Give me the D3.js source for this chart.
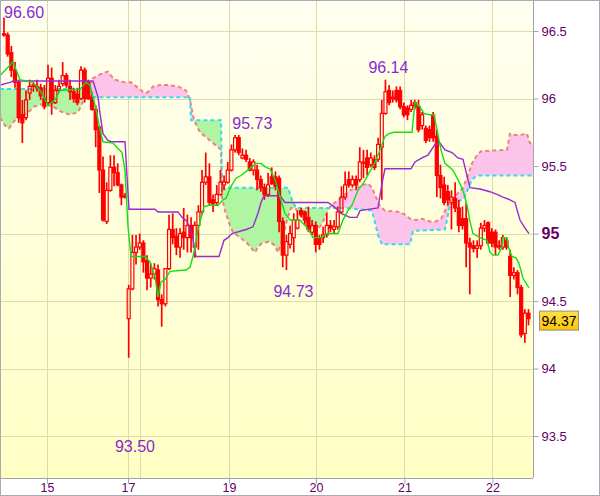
<!DOCTYPE html>
<html><head><meta charset="utf-8">
<script src="https://cdn.jsdelivr.net/npm/d3@7"></script>
<style>body{margin:0;background:#fff}svg{display:block}</style>
</head><body>
<svg id="c" width="600" height="496"></svg>
<script>
// ---------- DATA ----------
const openP = [96.48,96.47,96.34,96.21,96.12,95.88,95.86,96.04,96.09,96.09,
96.08,96.00,95.97,96.15,95.97,96.06,96.11,96.17,96.09,96.05,
96.03,96.00,96.21,96.12,96.01,95.92,95.79,95.47,95.09,95.32,
95.49,95.45,95.36,95.28,94.37,94.59,94.86,94.90,94.93,94.80,
94.67,94.70,94.73,94.51,94.48,94.74,95.03,94.98,94.90,95.01,
94.97,95.06,94.90,95.06,95.16,95.38,95.42,95.25,95.23,95.29,
95.36,95.38,95.47,95.62,95.71,95.56,95.58,95.53,95.47,95.47,
95.40,95.34,95.29,95.42,95.42,95.41,95.09,94.84,94.92,94.97,
95.04,95.17,95.16,95.12,95.01,95.06,94.97,94.97,94.99,95.06,
95.03,95.05,95.16,95.27,95.40,95.36,95.40,95.40,95.52,95.56,
95.51,95.55,95.55,95.64,95.89,96.06,96.00,96.06,96.06,95.94,
95.93,95.92,95.97,95.94,95.80,95.78,95.77,95.88,95.72,95.43,
95.36,95.31,95.23,95.26,95.19,95.11,95.11,94.93,94.91,94.89,
94.91,95.04,95.08,95.01,95.01,94.90,94.90,94.95,94.83,94.69,
94.71,94.60,94.26,94.41];
const highP = [96.60,96.49,96.39,96.27,96.14,95.99,96.06,96.14,96.12,96.14,
96.11,96.10,96.25,96.23,96.10,96.14,96.27,96.19,96.14,96.08,
96.08,96.24,96.23,96.14,96.05,95.95,95.80,95.57,95.38,95.58,
95.58,95.52,95.37,95.30,94.62,94.99,94.99,95.00,94.95,94.84,
94.78,94.78,94.77,94.55,94.74,95.14,95.15,95.04,95.04,95.19,
95.14,95.12,95.09,95.21,95.47,95.60,95.52,95.29,95.36,95.47,
95.43,95.53,95.66,95.73,95.73,95.63,95.62,95.56,95.55,95.51,
95.43,95.37,95.45,95.49,95.46,95.43,95.12,94.99,95.06,95.15,
95.17,95.19,95.17,95.20,95.10,95.09,94.99,95.05,95.15,95.10,
95.10,95.20,95.35,95.46,95.46,95.43,95.43,95.64,95.62,95.62,
95.60,95.58,95.71,95.99,96.14,96.10,96.06,96.09,96.09,95.97,
95.95,95.99,95.99,95.99,95.90,95.80,95.80,95.90,95.77,95.51,
95.42,95.36,95.32,95.38,95.25,95.20,95.23,94.97,94.95,94.95,
95.08,95.10,95.09,95.04,95.03,94.95,94.99,94.97,94.88,94.75,
94.73,94.62,94.44,94.44];
const lowP = [96.46,96.31,96.16,96.08,95.82,95.67,95.84,95.99,96.05,96.05,
95.99,95.92,95.95,95.88,95.96,96.05,96.09,96.08,95.99,95.97,
95.95,95.99,95.97,95.99,95.91,95.64,95.30,95.09,95.07,95.31,
95.35,95.35,95.21,95.26,94.08,94.58,94.77,94.88,94.71,94.58,
94.60,94.66,94.46,94.31,94.46,94.73,94.92,94.84,94.82,94.88,
94.86,94.86,94.82,94.88,95.14,95.36,95.21,95.16,95.21,95.28,
95.32,95.37,95.46,95.60,95.58,95.55,95.53,95.46,95.43,95.32,
95.31,95.25,95.27,95.36,95.32,95.01,94.75,94.73,94.89,94.86,
95.03,95.12,95.06,95.01,94.99,94.86,94.88,94.93,94.97,95.01,
95.00,95.03,95.15,95.25,95.34,95.34,95.32,95.38,95.41,95.43,
95.49,95.47,95.53,95.25,95.88,95.95,95.97,95.97,95.92,95.86,
95.84,95.90,95.92,95.75,95.77,95.67,95.68,95.68,95.27,95.26,
95.21,95.21,95.03,95.16,95.01,95.03,94.75,94.55,94.86,94.82,
94.88,95.01,94.92,94.90,94.84,94.88,94.88,94.88,94.53,94.66,
94.55,94.23,94.19,94.32];
const closeP = [96.47,96.33,96.21,96.12,95.86,95.82,95.99,96.09,96.10,96.08,
96.02,95.94,96.15,95.97,96.06,96.09,96.17,96.10,96.05,96.00,
95.97,96.21,96.00,96.00,95.92,95.77,95.47,95.10,95.32,95.49,
95.45,95.36,95.27,95.27,94.59,94.86,94.90,94.93,94.79,94.67,
94.70,94.74,94.51,94.48,94.74,95.03,94.97,94.90,95.00,94.97,
95.06,94.97,95.06,95.16,95.38,95.42,95.23,95.22,95.29,95.38,
95.38,95.47,95.62,95.71,95.60,95.58,95.55,95.47,95.53,95.40,
95.34,95.29,95.36,95.37,95.35,95.09,94.84,94.94,95.00,95.10,
95.10,95.14,95.10,95.03,95.06,94.92,94.92,94.99,95.06,95.04,
95.05,95.16,95.27,95.36,95.36,95.40,95.36,95.53,95.53,95.49,
95.56,95.49,95.66,95.89,96.05,95.97,96.01,95.99,95.94,95.88,
95.88,95.95,95.94,95.77,95.88,95.69,95.71,95.71,95.43,95.34,
95.23,95.25,95.27,95.19,95.06,95.06,94.93,94.90,94.89,94.91,
95.04,95.06,94.93,94.93,94.90,94.91,94.97,94.90,94.69,94.71,
94.60,94.25,94.41,94.37];

// Ichimoku lines: [bar index, price]
const tenkanPts = [[-1.09,96.17],[2.45,96.27],[4.36,96.14],[7.91,96.12],[9.81,96.06],[12.0,95.95],[13.9,95.99],[15.27,96.06],[20.72,96.07],[22.36,96.12],[23.45,96.10],[25.08,95.92],[26.17,95.77],[26.99,95.68],[29.72,95.67],[31.08,95.63],[32.17,95.60],[32.99,95.47],[33.81,95.05],[34.62,94.83],[38.44,94.83],[39.8,94.79],[41.17,94.68],[41.99,94.53],[42.8,94.64],[43.89,94.66],[45.26,94.72],[49.62,94.73],[50.71,94.75],[51.8,94.86],[52.89,95.03],[54.53,95.20],[55.89,95.21],[58.34,95.21],[59.71,95.25],[60.52,95.26],[61.89,95.35],[63.25,95.41],[64.61,95.43],[66.52,95.47],[68.7,95.52],[70.07,95.52],[71.43,95.49],[72.52,95.48],[73.88,95.40],[75.25,95.27],[76.61,95.15],[77.97,95.10],[80.7,95.10],[82.06,95.06],[83.42,95.01],[84.24,94.97],[86.7,94.97],[88.06,95.00],[91.06,95.00],[92.42,95.10],[93.78,95.17],[94.87,95.21],[96.51,95.32],[98.15,95.38],[99.51,95.45],[100.87,95.51],[102.24,95.60],[103.05,95.66],[103.87,95.72],[104.96,95.74],[106.32,95.75],[111.23,95.75],[112.05,95.97],[113.14,95.95],[114.5,95.89],[115.87,95.88],[117.23,95.88],[118.05,95.77],[119.14,95.62],[120.23,95.52],[122.41,95.47],[123.77,95.40],[125.14,95.32],[126.23,95.21],[127.04,95.09],[127.86,95.00],[129.77,94.97],[131.68,94.95],[132.5,94.86],[133.31,94.84],[134.68,94.84],[135.77,94.90],[136.04,94.97],[137.13,94.97],[137.4,94.91],[138.5,94.83],[139.59,94.82],[140.4,94.78],[141.49,94.67],[142.58,94.62],[143.13,94.60]];
const kijunPts = [[-1.09,96.10],[1.64,96.12],[2.45,96.13],[24.26,96.13],[25.08,96.06],[25.63,96.01],[26.17,95.89],[26.99,95.74],[28.35,95.69],[29.17,95.68],[32.99,95.68],[33.53,95.43],[34.08,95.18],[41.17,95.18],[41.98,95.16],[47.44,95.16],[48.53,95.12],[49.89,95.09],[51.25,95.00],[52.34,94.83],[58.62,94.83],[59.98,94.95],[61.07,94.97],[62.16,95.00],[65.98,95.03],[67.88,95.05],[69.25,95.15],[70.07,95.23],[70.88,95.28],[75.25,95.28],[76.61,95.23],[88.33,95.23],[89.97,95.20],[91.88,95.15],[94.33,95.12],[96.24,95.12],[97.06,95.17],[101.96,95.19],[103.05,95.37],[103.87,95.48],[110.96,95.48],[112.05,95.53],[113.96,95.56],[115.59,95.58],[117.5,95.66],[118.87,95.67],[120.23,95.62],[122.14,95.60],[123.77,95.56],[125.14,95.55],[127.04,95.34],[129.77,95.33],[132.5,95.31],[134.41,95.29],[136.04,95.27],[137.95,95.25],[139.31,95.23],[140.68,95.10],[142.04,95.04],[143.13,95.00]];
const spanAPts = [[-1.09,95.86],[0.27,95.80],[1.36,95.78],[2.45,95.82],[3.54,95.86],[4.36,95.85],[5.73,95.88],[7.09,95.91],[8.18,95.94],[10.63,95.96],[13.36,95.94],[15.81,95.90],[17.99,95.88],[20.17,95.90],[21.27,95.96],[22.08,96.02],[22.9,96.08],[24.26,96.15],[25.63,96.17],[26.99,96.19],[28.35,96.20],[29.17,96.17],[30.26,96.14],[32.99,96.12],[34.62,96.12],[36.53,96.08],[37.9,96.05],[38.71,96.04],[39.8,96.06],[40.62,96.09],[42.53,96.10],[44.71,96.10],[47.44,96.09],[49.62,96.06],[50.71,95.99],[51.8,95.84],[53.44,95.75],[56.16,95.69],[59.16,95.62],[59.43,95.27],[60.25,95.17],[61.61,95.06],[62.43,95.01],[64.34,94.97],[66.25,94.93],[68.43,94.86],[69.25,94.90],[70.34,94.93],[72.52,94.94],[73.88,94.91],[74.7,94.86],[76.06,94.97],[77.15,95.10],[78.24,95.19],[79.33,95.19],[81.24,95.12],[83.15,95.06],[85.06,95.02],[86.7,95.07],[87.79,95.14],[88.88,95.20],[90.24,95.23],[91.6,95.26],[92.97,95.29],[94.33,95.32],[96.24,95.34],[97.87,95.36],[99.24,95.37],[100.33,95.34],[101.42,95.27],[102.51,95.20],[103.87,95.17],[107.96,95.16],[109.32,95.14],[110.69,95.11],[112.32,95.10],[113.96,95.11],[116.14,95.09],[117.78,95.09],[119.14,95.11],[119.96,95.15],[120.77,95.20],[122.14,95.25],[123.77,95.30],[125.14,95.34],[126.5,95.43],[127.59,95.52],[128.95,95.58],[130.04,95.61],[137.13,95.62],[137.95,95.74],[139.31,95.73],[140.68,95.73],[142.58,95.74],[143.4,95.67],[144.22,95.66]];
const spanBPts = [[-1.09,96.07],[22.08,96.07],[22.9,96.01],[50.71,96.01],[50.98,95.84],[59.16,95.84],[59.43,95.34],[77.43,95.34],[78.52,95.25],[79.61,95.19],[93.24,95.19],[100.33,95.17],[101.96,94.99],[103.05,94.92],[110.69,94.92],[111.51,95.02],[120.23,95.03],[121.59,95.21],[125.41,95.26],[127.59,95.40],[128.95,95.43],[144.22,95.43]];

const priceTicks = [93.5,94,94.5,95,95.5,96,96.5];
const priceLabels = ["93.5","94","94.5","95","95.5","96","96.5"];
const dayTicks = [11.72,33.81,61.34,85.06,109.19,133.18];
const dayLabels = ["15","17","19","20","21","22"];
const weekSeparator = [37.16];
const extremeLabels = [
  {text:"96.60", i:5.45, v:96.60},
  {text:"95.73", i:67.7, v:95.775},
  {text:"96.14", i:104.8, v:96.19},
  {text:"94.73", i:78.9, v:94.53},
  {text:"93.50", i:35.7, v:93.38}
];
const lastPrice = "94.37";

// ---------- DRAW ----------
const W=600,H=496,PR=533,PB=478;
const FONT='Liberation Sans, Arial, sans-serif';
const svg=d3.select('#c');
const x=d3.scaleLinear().domain([0,143]).range([4,528.5]);
const y=d3.scaleLinear().domain([96.73-478/135,96.73]).range([PB,0]);
const defs=svg.append('defs');
const g1=defs.append('linearGradient').attr('id','bg').attr('x1',0).attr('y1',0).attr('x2',0).attr('y2',1);
g1.append('stop').attr('offset','0%').attr('stop-color','#fffff0');
g1.append('stop').attr('offset','100%').attr('stop-color','#ffffc4');
const g2=defs.append('linearGradient').attr('id','gold').attr('x1',0).attr('y1',0).attr('x2',0).attr('y2',1);
g2.append('stop').attr('offset','0%').attr('stop-color','#ffe04a');
g2.append('stop').attr('offset','100%').attr('stop-color','#ffc400');
defs.append('clipPath').attr('id','plotclip').append('rect').attr('x',0).attr('y',0).attr('width',PR).attr('height',PB);

svg.append('rect').attr('width',W).attr('height',H).attr('fill','#fff');
svg.append('rect').attr('x',0).attr('y',0).attr('width',PR).attr('height',PB).attr('fill','url(#bg)');

const plot=svg.append('g').attr('clip-path','url(#plotclip)');
// grid
const gridC='#dedcaa';
plot.selectAll('.hg').data(priceTicks).enter().append('line')
  .attr('x1',0).attr('x2',PR).attr('y1',d=>Math.round(y(d))+0.5).attr('y2',d=>Math.round(y(d))+0.5)
  .attr('stroke',gridC).attr('stroke-width',1);
plot.selectAll('.vg').data(dayTicks.concat(weekSeparator)).enter().append('line')
  .attr('y1',0).attr('y2',PB).attr('x1',d=>Math.round(x(d))+0.5).attr('x2',d=>Math.round(x(d))+0.5)
  .attr('stroke',gridC).attr('stroke-width',1);

// cloud
const P=pts=>pts.map(d=>[x(d[0]),y(d[1])]);
const aP=P(spanAPts), bP=P(spanBPts);
const line=d3.line();
const poly=line(aP.concat(bP.slice().reverse()))+'Z';
const x0=aP[0][0], x1=aP[aP.length-1][0];
defs.append('clipPath').attr('id','belowA').append('path')
  .attr('d',line(aP.concat([[x1,PB+20],[x0,PB+20]]))+'Z');
defs.append('clipPath').attr('id','aboveA').append('path')
  .attr('d',line(aP.concat([[x1,-20],[x0,-20]]))+'Z');
plot.append('g').attr('clip-path','url(#belowA)').append('path').attr('d',poly).attr('fill','#fcc4ea');
plot.append('g').attr('clip-path','url(#aboveA)').append('path').attr('d',poly).attr('fill','#b0f5a2');
plot.append('path').attr('d',line(aP)).attr('fill','none').attr('stroke','#f08080').attr('stroke-width',2).attr('stroke-dasharray','4,3');
plot.append('path').attr('d',line(bP)).attr('fill','none').attr('stroke','#30dcee').attr('stroke-width',2).attr('stroke-dasharray','4,3');

// candles
const idx=d3.range(openP.length);
const cg=plot.append('g');
idx.forEach(i=>{
  const cx=x(i), o=openP[i], c=closeP[i], h=highP[i], l=lowP[i];
  const top=y(Math.max(o,c)), bot=y(Math.min(o,c));
  cg.append('line').attr('x1',cx).attr('x2',cx).attr('y1',y(h)).attr('y2',top).attr('stroke','#ff0000').attr('stroke-width',1.7);
  cg.append('line').attr('x1',cx).attr('x2',cx).attr('y1',bot).attr('y2',y(l)).attr('stroke','#ff0000').attr('stroke-width',1.7);
  cg.append('rect').attr('x',cx-1.5).attr('y',top).attr('width',3).attr('height',Math.max(1,bot-top))
    .attr('fill',c<o?'#ff0000':'none').attr('stroke','#ff0000').attr('stroke-width',1.2);
});

// tenkan / kijun
plot.append('path').attr('d',line(P(kijunPts))).attr('fill','none').attr('stroke','#9a2ad0').attr('stroke-width',1.4);
plot.append('path').attr('d',line(P(tenkanPts))).attr('fill','none').attr('stroke','#10e010').attr('stroke-width',1.4);

// extreme labels
svg.selectAll('.ex').data(extremeLabels).enter().append('text')
  .attr('x',d=>Math.max(3,x(d.i)-20)).attr('y',d=>y(d.v))
  .attr('font-family',FONT).attr('font-size',16)
  .attr('fill','#8a2ad0').text(d=>d.text);

// frame
svg.append('line').attr('x1',PR+0.5).attr('x2',PR+0.5).attr('y1',0).attr('y2',PB).attr('stroke','#a0a4aa');
svg.append('line').attr('x1',0).attr('x2',PR).attr('y1',PB+0.5).attr('y2',PB+0.5).attr('stroke','#a0a4aa');

// right axis
const ya=svg.append('g').attr('transform',`translate(${PR+0.5},0)`)
  .call(d3.axisRight(y).tickValues(priceTicks).tickFormat((d,k)=>priceLabels[k]).tickSize(5).tickPadding(3));
ya.select('.domain').remove();
ya.selectAll('line').attr('stroke','#a0a4aa');
ya.selectAll('text').attr('fill','#660066').attr('font-family',FONT).attr('font-size',13)
  .filter(d=>d===95).attr('font-weight','bold').attr('font-size',16);

// bottom axis
const xa=svg.append('g').attr('transform',`translate(0,${PB+0.5})`)
  .call(d3.axisBottom(x).tickValues(dayTicks).tickFormat((d,k)=>dayLabels[k]).tickSize(5).tickPadding(0));
xa.select('.domain').remove();
xa.selectAll('line').attr('stroke','#a0a4aa');
xa.selectAll('text').attr('fill','#660066').attr('font-family',FONT).attr('font-size',12.5)
  .attr('dy',null).attr('y',13);

// last price box
const lp=y(closeP[closeP.length-1]);
svg.append('rect').attr('x',539.5).attr('y',lp-7.5).attr('width',39).attr('height',19)
  .attr('fill','url(#gold)').attr('stroke','#909090');
svg.append('text').attr('x',559).attr('y',lp+7).attr('text-anchor','middle')
  .attr('font-family',FONT).attr('font-size',14).attr('fill','#000').text(lastPrice);

// outer border
svg.append('rect').attr('x',0.5).attr('y',0.5).attr('width',W-1).attr('height',H-1).attr('fill','none').attr('stroke','#a8acb2');
</script>
</body></html>
